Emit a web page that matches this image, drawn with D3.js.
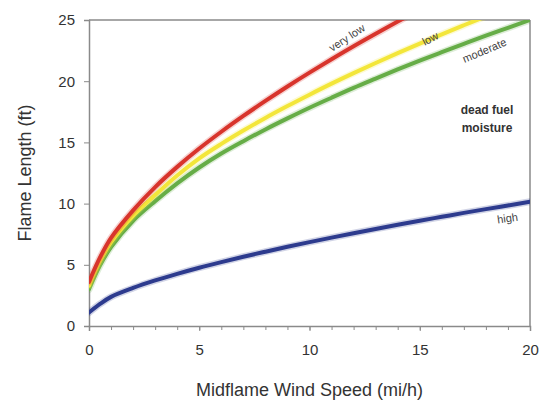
<!DOCTYPE html>
<html><head><meta charset="utf-8">
<script src="https://d3js.org/d3.v7.min.js"></script>
<style>body{margin:0;background:#fff}svg{display:block}</style>
</head><body>
<script>
// Data
const windSpeed = [0, 0.5, 1, 2, 3, 4, 5, 6, 7, 8, 9, 10, 11, 12, 13, 14, 15, 16, 17, 18, 19, 20];
const veryLow  = [3.6, 5.6, 7.2, 9.45, 11.35, 13.0, 14.5, 15.87, 17.16, 18.39, 19.57, 20.7, 21.79, 22.85, 23.87, 24.87, 25.84, null, null, null, null, null];
const low      = [3.3, 5.3, 6.85, 9.0, 10.7, 12.3, 13.7, 14.88, 15.97, 17.0, 17.97, 18.9, 19.8, 20.66, 21.49, 22.29, 23.07, 23.83, 24.57, 25.3, null, null];
const moderate = [3.0, 4.95, 6.45, 8.6, 10.2, 11.65, 12.95, 14.09, 15.10, 16.06, 16.96, 17.83, 18.65, 19.45, 20.21, 20.96, 21.68, 22.37, 23.05, 23.72, 24.36, 25.0];
const high     = [1.1, 1.8, 2.38, 3.11, 3.72, 4.26, 4.76, 5.22, 5.66, 6.07, 6.47, 6.85, 7.22, 7.58, 7.93, 8.27, 8.60, 8.92, 9.24, 9.55, 9.85, 10.15];
const seriesNames = ["very low", "low", "moderate", "high"];
const xTicks = [0, 5, 10, 15, 20];
const yTicks = [0, 5, 10, 15, 20, 25];

const W = 547, H = 410;
const m = {l: 89, r: 17, t: 20, b: 84};
const svg = d3.select("body").append("svg").attr("width", W).attr("height", H)
  .style("font-family", "Arial, 'Liberation Sans', sans-serif");

const x = d3.scaleLinear().domain([0, 20]).range([m.l, W - m.r]);
const y = d3.scaleLinear().domain([0, 25]).range([H - m.b, m.t]);

svg.append("defs").append("clipPath").attr("id", "clip")
  .append("rect").attr("x", x(0)).attr("y", y(25)).attr("width", x(20) - x(0)).attr("height", y(0) - y(25));

// frame: top and right border
const axisCol = "#8a8a8a";
svg.append("line").attr("x1", x(0)).attr("x2", x(20)).attr("y1", y(25)).attr("y2", y(25)).attr("stroke", axisCol).attr("stroke-width", 1.5);
svg.append("line").attr("x1", x(20)).attr("x2", x(20)).attr("y1", y(25)).attr("y2", y(0)).attr("stroke", axisCol).attr("stroke-width", 1.5);

// minor ticks on x axis
const xAxisMinor = d3.axisBottom(x).tickValues(d3.range(0, 21, 1)).tickSize(4).tickFormat("");
const gxm = svg.append("g").attr("transform", `translate(0,${y(0)})`).call(xAxisMinor);
gxm.selectAll("line").attr("stroke", axisCol);
gxm.select(".domain").remove();

// x axis
const gx = svg.append("g").attr("transform", `translate(0,${y(0)})`)
  .call(d3.axisBottom(x).tickValues(xTicks).tickSize(5).tickPadding(13).tickFormat(d3.format("d")));
gx.select(".domain").attr("stroke", axisCol).attr("stroke-width", 1.5);
gx.selectAll("line").attr("stroke", axisCol);
gx.selectAll("text").attr("font-size", 15).attr("fill", "#333").style("font-family", "Arial, 'Liberation Sans', sans-serif");

// y axis
const gy = svg.append("g").attr("transform", `translate(${x(0)},0)`)
  .call(d3.axisLeft(y).tickValues(yTicks).tickSize(5).tickPadding(9).tickFormat(d3.format("d")));
gy.select(".domain").attr("stroke", axisCol).attr("stroke-width", 1.5);
gy.selectAll("line").attr("stroke", axisCol);
gy.selectAll("text").attr("font-size", 15).attr("fill", "#333").style("font-family", "Arial, 'Liberation Sans', sans-serif");

// axis titles
svg.append("text").attr("x", (x(0) + x(20)) / 2).attr("y", 396).attr("text-anchor", "middle")
  .attr("font-size", 18).attr("fill", "#333").text("Midflame Wind Speed (mi/h)");
svg.append("text").attr("transform", `translate(31,${(y(0) + y(25)) / 2}) rotate(-90)`).attr("text-anchor", "middle")
  .attr("font-size", 18).attr("fill", "#333").text("Flame Length (ft)");

// curves
const allSeries = [veryLow, low, moderate, high];
const colors = ["#d8342c", "#f3e63a", "#66ad47", "#2d3b8e"];
const line = d3.line().defined(d => d[1] != null).x(d => x(d[0])).y(d => y(d[1])).curve(d3.curveCatmullRom.alpha(0.5));
const gl = svg.append("g").attr("clip-path", "url(#clip)");
[3, 2, 1, 0].forEach(i => {
  const pts = windSpeed.map((w, j) => [w, allSeries[i][j]]);
  gl.append("path").attr("d", line(pts)).attr("fill", "none")
    .attr("stroke", colors[i]).attr("stroke-opacity", 0.22).attr("stroke-width", 7).attr("stroke-linecap", "round");
  gl.append("path").attr("d", line(pts)).attr("fill", "none")
    .attr("stroke", colors[i]).attr("stroke-width", 4).attr("stroke-linecap", "round");
});

// curve labels
const lab = (t, cx, cy, ang) => svg.append("text").attr("transform", `translate(${cx},${cy}) rotate(${ang})`)
  .attr("text-anchor", "middle").attr("font-size", 11).attr("fill", "#444").text(t);
lab(seriesNames[0], 349, 41, -33);
lab(seriesNames[1], 432, 42, -27);
lab(seriesNames[2], 486, 54, -23);
lab(seriesNames[3], 508, 222, -8);

svg.append("text").attr("x", 487).attr("y", 114).attr("text-anchor", "middle").attr("font-size", 12).attr("font-weight", "bold").attr("fill", "#333").text("dead fuel");
svg.append("text").attr("x", 487).attr("y", 132).attr("text-anchor", "middle").attr("font-size", 12).attr("font-weight", "bold").attr("fill", "#333").text("moisture");
</script>
</body></html>
